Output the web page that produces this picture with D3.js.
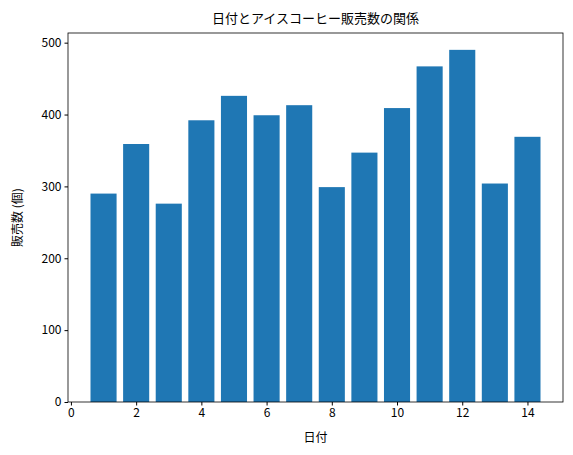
<!DOCTYPE html>
<html><head><meta charset="utf-8">
<script src="https://cdn.jsdelivr.net/npm/d3@7"></script>
<style>body{margin:0;background:#fff}text{font-family:"Noto Sans CJK JP","DejaVu Sans",sans-serif}</style>
</head><body><svg id="c" width="573" height="455"></svg>
<script>
const days=[1,2,3,4,5,6,7,8,9,10,11,12,13,14];
const sales=[290,359,276,392,426,399,413,299,347,409,467,490,304,369];
const xTicks=[0,2,4,6,8,10,12,14];
const yTicks=[0,100,200,300,400,500];
const svg=d3.select("#c");
const L=68,R=563,T=33,B=402;
const x=d3.scaleLinear().domain([-0.09,15.09]).range([L,R]);
const y=d3.scaleLinear().domain([0,513.45]).range([B,T]);
svg.selectAll("rect.b").data(days).enter().append("rect")
 .attr("x",d=>x(d-0.4)).attr("width",x(0.8)-x(0))
 .attr("y",(d,i)=>y(sales[i])).attr("height",(d,i)=>B-y(sales[i])).attr("fill","#1f77b4");
const ax=d3.axisBottom(x).tickValues(xTicks).tickSize(3.5).tickPadding(3);
const gx=svg.append("g").attr("transform",`translate(0,${B})`).call(ax);
const ay=d3.axisLeft(y).tickValues(yTicks).tickSize(3.5).tickPadding(3);
const gy=svg.append("g").attr("transform",`translate(${L},0)`).call(ay);
[gx,gy].forEach(g=>{g.select(".domain").remove();g.selectAll("text").attr("font-size",12).attr("fill","#000");g.selectAll("line").attr("stroke","#000");});
svg.append("rect").attr("x",L).attr("y",T).attr("width",R-L).attr("height",B-T).attr("fill","none").attr("stroke","#000").attr("stroke-width",0.8);
svg.append("text").attr("x",(L+R)/2).attr("y",T-10).attr("text-anchor","middle").attr("font-size",13).text("日付とアイスコーヒー販売数の関係");
svg.append("text").attr("x",(L+R)/2).attr("y",442).attr("text-anchor","middle").attr("font-size",12).text("日付");
svg.append("text").attr("transform",`translate(22,${(T+B)/2}) rotate(-90)`).attr("text-anchor","middle").attr("font-size",12).text("販売数 (個)");
</script></body></html>
